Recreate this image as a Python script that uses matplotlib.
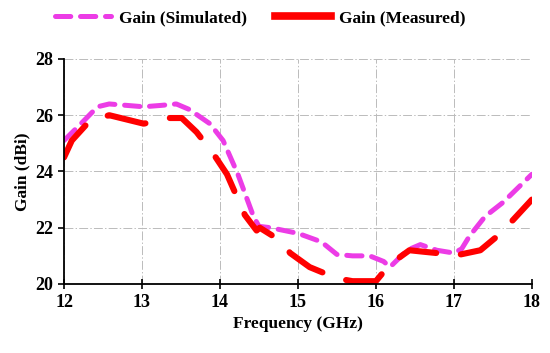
import matplotlib
matplotlib.use('Agg')
import matplotlib.pyplot as plt

plt.rcParams.update({
    'font.family': 'Liberation Serif',
    'font.weight': 'bold',
    'font.size': 12,
    'lines.scale_dashes': False,
})

MAGENTA = '#ec3ce6'
RED = '#ff0000'

# Gain (Simulated)
f_sim = [12.0, 12.2, 12.43, 12.58, 12.8, 13.02, 13.25, 13.44, 13.61, 13.87,
         14.04, 14.23, 14.43, 14.5, 14.65, 15.0, 15.3, 15.5, 15.7, 15.92,
         16.1, 16.18, 16.4, 16.57, 16.78, 17.0, 17.1, 17.2, 17.4, 17.63, 18.0]
g_sim = [25.1, 25.65, 26.3, 26.4, 26.35, 26.3, 26.35, 26.4, 26.2, 25.7,
         25.1, 23.9, 22.4, 22.05, 22.0, 21.8, 21.5, 21.05, 21.0, 21.0,
         20.8, 20.6, 21.2, 21.4, 21.2, 21.1, 21.25, 21.7, 22.4, 22.9, 23.9]

# Gain (Measured)
f_meas = [12.0, 12.1, 12.33, 12.58, 12.8, 13.02, 13.23, 13.35, 13.51, 13.7,
          13.91, 14.09, 14.32, 14.47, 14.51, 14.77, 14.9, 15.15, 15.5, 15.7,
          16.0, 16.18, 16.43, 16.6, 16.78, 17.0, 17.34, 17.6, 18.0]
g_meas = [24.5, 25.1, 25.8, 26.0, 25.85, 25.7, 25.8, 25.9, 25.9, 25.4,
          24.65, 23.9, 22.45, 21.9, 22.0, 21.55, 21.1, 20.6, 20.2, 20.1,
          20.1, 20.7, 21.2, 21.15, 21.1, 21.0, 21.2, 21.8, 23.0]

fig = plt.figure(figsize=(5.5, 3.53), dpi=100)
ax = fig.add_axes([0.1164, 0.1955, 0.8506, 0.6375])

ax.plot(f_sim, g_sim, color=MAGENTA, lw=3.6, dashes=(11, 7),
        dash_capstyle='round', solid_joinstyle='round', label='Gain (Simulated)')
ax.plot(f_meas, g_meas, color=RED, lw=4.4, dashes=(28, 18),
        dash_capstyle='round', solid_joinstyle='round', label='Gain (Measured)')

ax.set_xlim(12, 18)
ax.set_ylim(20, 28)
ax.set_xticks(range(12, 19))
ax.set_yticks(range(20, 29, 2))
ax.grid(True, color='#bbbbbb', ls='-.', lw=0.7)
for s in ['top', 'right']:
    ax.spines[s].set_visible(False)
ax.spines['left'].set_linewidth(1.3)
ax.spines['bottom'].set_linewidth(1.3)
ax.tick_params(axis='x', direction='inout', length=7, width=1.2, labelsize=13)
ax.tick_params(axis='y', direction='out', length=4, width=1.2, labelsize=13)

ax.set_xlabel('Frequency (GHz)', fontsize=12.5, fontweight='bold')
ax.set_ylabel('Gain (dBi)', fontsize=12.5, fontweight='bold')

leg = ax.legend(loc='center', bbox_to_anchor=(0.42, 1.18), ncol=2, frameon=False,
                fontsize=12.5, handlelength=3.2, columnspacing=1.6, handletextpad=0.5)
leg.get_lines()[1].set_linestyle('-')
leg.get_lines()[1].set_linewidth(5.5)

fig.savefig('out.png', dpi=100)
